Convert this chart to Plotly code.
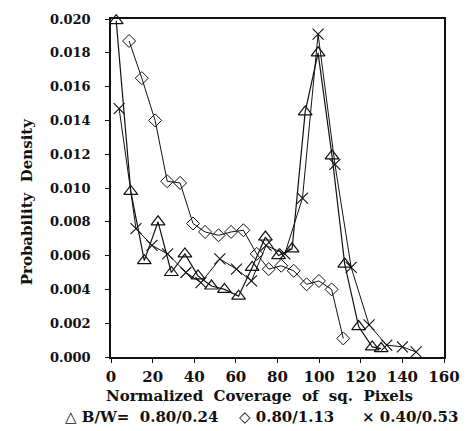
import plotly.graph_objects as go

# Series: B/W = 0.80/0.24 (triangles)
tri_x = [2.5, 9.5, 16.0, 22.6, 29.0, 35.5, 41.8, 48.3, 54.5, 61.3, 67.8, 74.2, 80.5, 87.0, 93.3, 99.5, 106.2, 112.3, 119.0, 125.5, 129.8]
tri_y = [0.0199, 0.0098, 0.0057, 0.0080, 0.0050, 0.0061, 0.0048, 0.0042, 0.0040, 0.0036, 0.0053, 0.0071, 0.0060, 0.0064, 0.0145, 0.0180, 0.0119, 0.0055, 0.0018, 0.0006, 0.0005]

# Series: 0.80/1.13 (diamonds)
dia_x = [8.7, 14.8, 21.2, 27.0, 33.2, 39.4, 45.2, 51.7, 57.7, 63.6, 70.0, 75.8, 81.8, 87.8, 94.0, 99.9, 106.0, 111.6]
dia_y = [0.0187, 0.0165, 0.0140, 0.0104, 0.0103, 0.0079, 0.0074, 0.0072, 0.0074, 0.0075, 0.0061, 0.0052, 0.0054, 0.0051, 0.0043, 0.0045, 0.0040, 0.0011]

# Series: 0.40/0.53 (crosses)
crs_x = [3.9, 12.0, 19.7, 27.2, 36.0, 43.2, 52.3, 60.3, 67.5, 74.5, 83.5, 92.0, 99.5, 107.6, 115.4, 124.0, 132.5, 140.0, 146.6]
crs_y = [0.0147, 0.0076, 0.0066, 0.0061, 0.0050, 0.0044, 0.0058, 0.0052, 0.0045, 0.0066, 0.0061, 0.0094, 0.0191, 0.0114, 0.0053, 0.0019, 0.0007, 0.0006, 0.0003]

x_ticks = [0, 20, 40, 60, 80, 100, 120, 140, 160]
y_ticks = [0.000, 0.002, 0.004, 0.006, 0.008, 0.010, 0.012, 0.014, 0.016, 0.018, 0.020]
y_tick_text = ["%.3f" % v for v in y_ticks]

x_title = "Normalized&nbsp; Coverage&nbsp; of&nbsp; sq.&nbsp; Pixels"
y_title = "Probability&nbsp; Density"
legend_labels = ["△ B/W=&nbsp; 0.80/0.24", "◇ 0.80/1.13", "× 0.40/0.53"]
legend_px = [62, 240, 469]
legend_anchor = ["left", "left", "right"]

FONT = "DejaVu Serif"
BLACK = "#111111"
L, R, T, B = 111, 19, 14, 73.5
PW, PH = 472 - L - R, 431 - T - B

fig = go.Figure()
fig.add_trace(go.Scatter(
    x=tri_x, y=tri_y, mode="lines+markers",
    line=dict(color=BLACK, width=1.2),
    marker=dict(symbol="triangle-up-open", size=12, color=BLACK, line=dict(width=1.2)),
    cliponaxis=False, showlegend=False))
fig.add_trace(go.Scatter(
    x=dia_x, y=dia_y, mode="lines+markers",
    line=dict(color=BLACK, width=1),
    marker=dict(symbol="diamond-open", size=10, color=BLACK, line=dict(width=1)),
    cliponaxis=False, showlegend=False))
fig.add_trace(go.Scatter(
    x=crs_x, y=crs_y, mode="lines+markers",
    line=dict(color=BLACK, width=1),
    marker=dict(symbol="x-thin-open", size=11, color=BLACK, line=dict(width=1.1)),
    cliponaxis=False, showlegend=False))

fig.update_xaxes(
    range=[0, 160], tickvals=x_ticks, ticks="outside", ticklen=4, tickcolor=BLACK,
    showline=True, linecolor=BLACK, linewidth=1.5, mirror=True,
    showgrid=False, zeroline=False, ticklabelstandoff=1,
    tickfont=dict(family=FONT, size=15, color=BLACK, weight="bold"))
fig.update_yaxes(
    range=[0, 0.020], tickvals=y_ticks, ticktext=y_tick_text, ticks="outside", ticklen=4,
    tickcolor=BLACK, showline=True, linecolor=BLACK, linewidth=1.5, mirror=True,
    showgrid=False, zeroline=False, ticklabelstandoff=12,
    tickfont=dict(family=FONT, size=13, color=BLACK, weight="bold"))

fig.add_annotation(text=x_title, xref="paper", yref="paper", x=(263.5 - L) / PW, y=-(397 - (T + PH)) / PH,
                   showarrow=False, xanchor="center", yanchor="middle",
                   font=dict(family=FONT, size=15, color=BLACK, weight="bold"))
fig.add_annotation(text=y_title, xref="paper", yref="paper", x=(25 - L) / PW, y=((T + PH) - 199) / PH,
                   showarrow=False, xanchor="center", yanchor="middle", textangle=-90,
                   font=dict(family=FONT, size=15, color=BLACK, weight="bold"))
for lab, px, anc in zip(legend_labels, legend_px, legend_anchor):
    fig.add_annotation(text=lab, xref="paper", yref="paper", x=(px - L) / PW, y=-(418 - (T + PH)) / PH,
                       showarrow=False, xanchor=anc, yanchor="middle",
                       font=dict(family=FONT, size=15, color=BLACK, weight="bold"))

fig.update_layout(
    width=472, height=431,
    margin=dict(l=L, r=R, t=T, b=B),
    paper_bgcolor="white", plot_bgcolor="white",
)

fig.write_html("out.html")
